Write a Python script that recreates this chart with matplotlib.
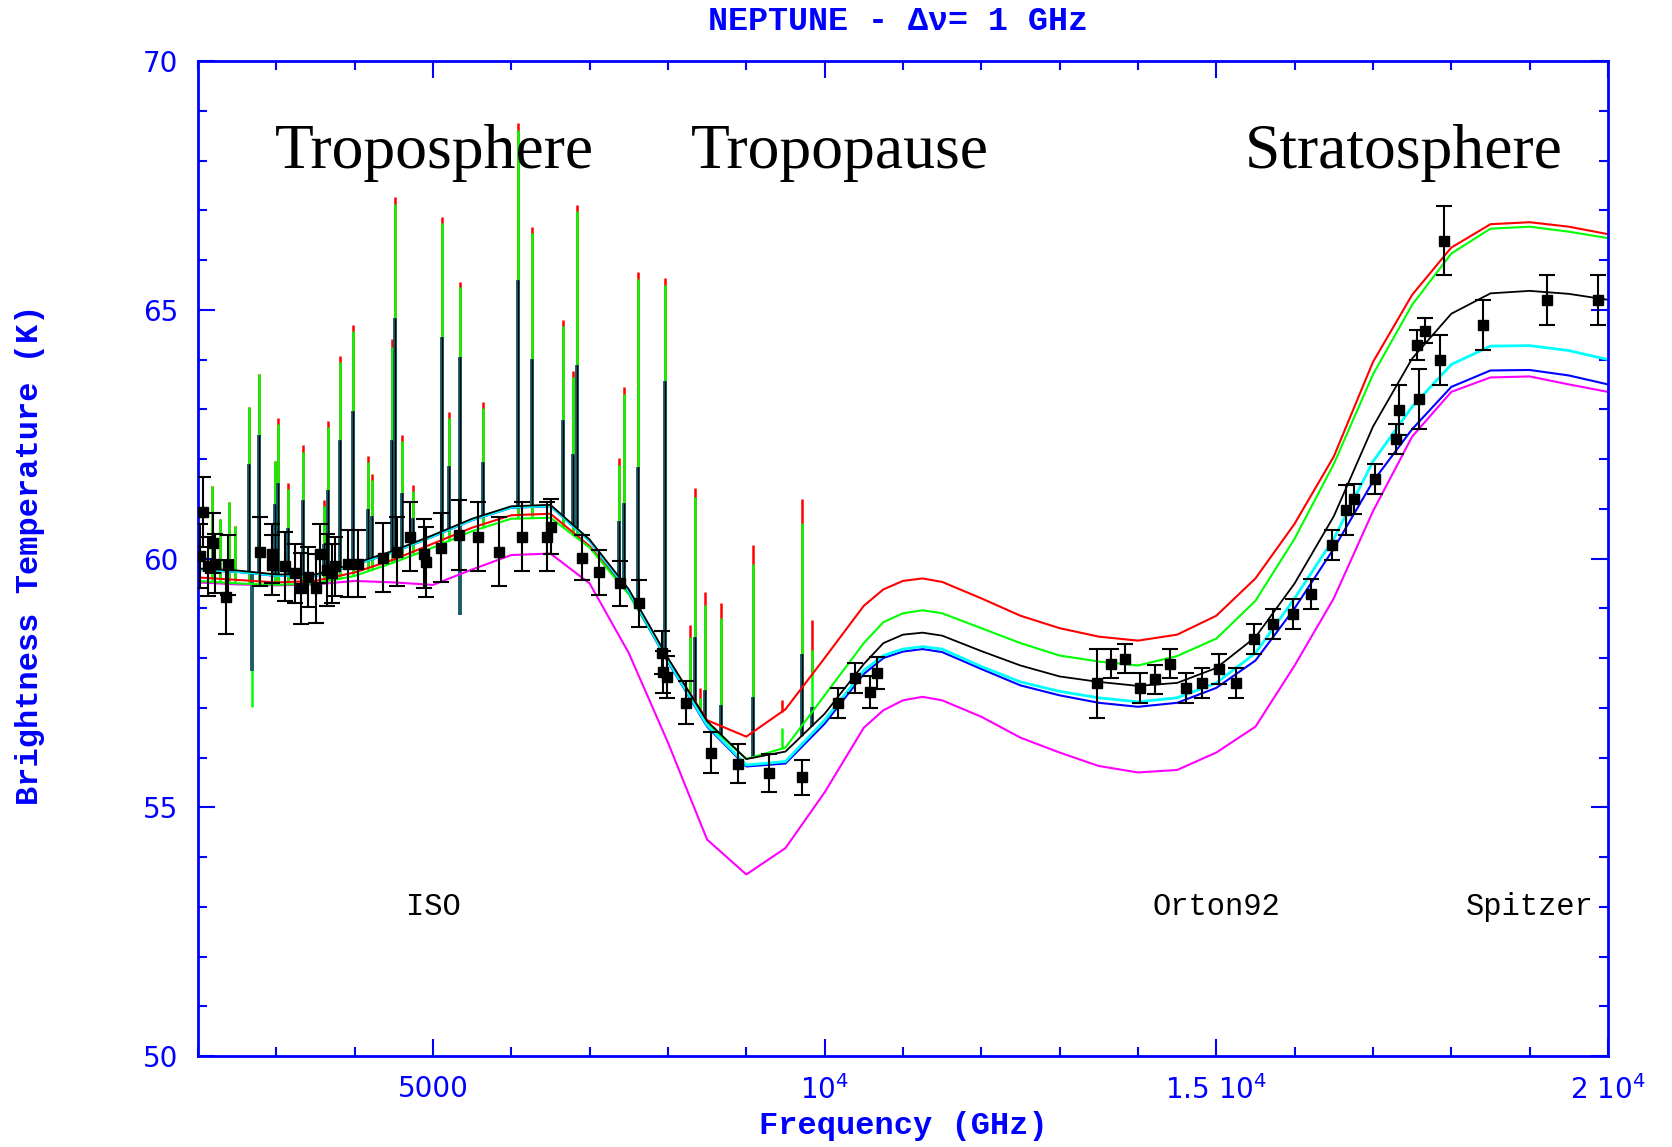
import numpy as np
import matplotlib.pyplot as plt
from matplotlib.ticker import FixedLocator, MultipleLocator

# model grid (GHz) and brightness temperatures (K) for the six models
freq = [2000, 2500, 3000, 3500, 4000, 4500, 5000, 5500, 6000, 6500, 7000, 7500,
        8000, 8500, 9000, 9500, 10000, 10500, 10750, 11000, 11250, 11500, 12000, 12500,
        13000, 13500, 14000, 14500, 15000, 15500, 16000, 16500, 17000, 17500, 18000,
        18500, 19000, 19500, 20000]

t_black = [59.80, 59.76, 59.68, 59.68, 59.90, 60.16, 60.47, 60.80, 61.05, 61.08, 60.38, 59.38,
           58.00, 56.73, 55.97, 56.12, 56.88, 57.88, 58.30, 58.47, 58.51, 58.45, 58.14, 57.85,
           57.63, 57.52, 57.44, 57.50, 57.80, 58.42, 59.50, 60.85, 62.65, 64.02, 64.92,
           65.33, 65.38, 65.32, 65.20]
t_red = [59.62, 59.57, 59.52, 59.55, 59.72, 59.98, 60.30, 60.62, 60.87, 60.90, 60.25, 59.30,
         57.98, 56.75, 56.42, 56.97, 58.00, 59.05, 59.38, 59.55, 59.60, 59.53, 59.20, 58.85,
         58.60, 58.43, 58.35, 58.47, 58.85, 59.60, 60.70, 62.05, 63.95, 65.30, 66.25,
         66.72, 66.76, 66.67, 66.52]
t_green = [59.55, 59.50, 59.47, 59.50, 59.65, 59.92, 60.22, 60.55, 60.80, 60.82, 60.22, 59.28,
           57.95, 56.68, 55.97, 56.20, 57.25, 58.30, 58.72, 58.90, 58.96, 58.90, 58.60, 58.30,
           58.05, 57.93, 57.85, 58.04, 58.39, 59.15, 60.40, 61.90, 63.70, 65.10, 66.13,
           66.63, 66.67, 66.57, 66.44]
t_cyan = [59.78, 59.74, 59.66, 59.66, 59.88, 60.14, 60.45, 60.78, 61.03, 61.06, 60.36, 59.35,
          57.95, 56.65, 55.85, 55.92, 56.75, 57.75, 58.05, 58.18, 58.23, 58.18, 57.83, 57.52,
          57.33, 57.20, 57.12, 57.20, 57.50, 58.10, 59.20, 60.40, 61.95, 63.05, 63.90,
          64.27, 64.28, 64.18, 64.00]
t_blue = [59.77, 59.73, 59.65, 59.65, 59.87, 60.13, 60.44, 60.77, 61.02, 61.05, 60.35, 59.33,
          57.92, 56.62, 55.82, 55.88, 56.68, 57.68, 58.00, 58.13, 58.18, 58.12, 57.78, 57.45,
          57.25, 57.10, 57.02, 57.10, 57.40, 57.95, 59.00, 60.20, 61.55, 62.60, 63.45,
          63.78, 63.79, 63.68, 63.50]
t_magenta = [59.52, 59.48, 59.46, 59.48, 59.55, 59.52, 59.47, 59.78, 60.07, 60.10, 59.50, 58.10,
             56.30, 54.35, 53.65, 54.18, 55.30, 56.60, 56.95, 57.15, 57.22, 57.15, 56.82, 56.40,
             56.10, 55.83, 55.70, 55.75, 56.10, 56.62, 57.85, 59.20, 60.95, 62.45, 63.35,
             63.64, 63.66, 63.50, 63.35]

# spectral lines: frequency and peak temperature for each model
spike_freq = [2175, 2281, 2400, 2472, 2651, 2779, 2983, 3025, 3145, 3337, 3609, 3663,
              3813, 3983, 4174, 4225, 4480, 4515, 4608, 4749, 5111, 5208, 5345, 5642,
              6089, 6260, 6656, 6791, 6834, 7374, 7438, 7621, 7962, 8281, 8345, 8409,
              8472, 8677, 9081, 9451, 9707, 9834]
spike_red = [61.45, 60.79, 61.14, 60.65, 63.04, 63.70, 61.97, 62.83, 61.52, 62.28, 61.17, 62.76,
             64.08, 64.70, 62.07, 61.69, 64.42, 67.26, 62.49, 61.48, 66.87, 62.95, 65.56, 63.14,
             68.76, 66.67, 64.80, 63.77, 67.11, 62.02, 63.45, 65.76, 65.64, 58.66, 61.41, 57.39,
             59.33, 59.11, 60.27, 57.16, 61.19, 58.76]
spike_green = [61.45, 60.79, 61.14, 60.65, 63.04, 63.70, 61.97, 62.70, 61.40, 62.15, 61.05, 62.64,
               63.96, 64.58, 61.95, 61.57, 64.25, 67.12, 62.37, 61.36, 66.74, 62.83, 65.45, 63.02,
               68.62, 66.55, 64.67, 63.65, 66.98, 61.88, 63.30, 65.62, 65.50, 58.43, 61.24, 57.20,
               59.07, 58.80, 59.90, 56.60, 60.71, 58.16]
spike_black = [np.nan, np.nan, np.nan, np.nan, 61.90, 62.49, 61.10, 61.52, 60.62, 61.17, 60.30, 61.38,
               62.38, 62.97, 61.00, 60.86, 62.38, 64.84, 61.31, 60.82, 64.45, 61.85, 64.05, 61.94,
               65.60, 64.01, 62.78, 62.10, 63.89, 60.75, 61.11, 61.83, 63.57, np.nan, 58.43, np.nan,
               57.36, 57.06, 57.22, np.nan, 58.09, 57.02]
# absorption features
dip_freq = [2686, 5345]
dip_green = [57.02, np.nan]
dip_black = [57.74, 58.86]

# observations (ISO, Orton92, Spitzer)
obs_freq = [2030, 2068, 2132, 2196, 2217, 2353, 2387, 2791, 2941, 2950, 3111, 3238, 3315,
            3408, 3502, 3557, 3643, 3706, 3749, 3919, 4047, 4366, 4536, 4706, 4889, 4907,
            5102, 5336, 5570, 5843, 6132, 6451, 6506, 6898, 7123, 7387, 7634, 7919, 7932,
            7983, 8230, 8549, 8897, 9293, 9707, 10174, 10387, 10579, 10673,
            13474, 13652, 13839, 14026, 14220, 14406, 14614, 14822, 15039, 15257, 15486,
            15729, 15977, 16215, 16478, 16661, 16752, 17021, 17300, 17335, 17594, 17564,
            17660, 17857, 17903, 18409, 19224, 19867]
obs_temp = [60.05, 60.94, 59.84, 60.31, 59.90, 59.23, 59.87, 60.14, 60.10, 59.87, 59.84, 59.70, 59.40,
            59.63, 59.40, 60.10, 59.77, 59.70, 59.84, 59.90, 59.90, 60.02, 60.14, 60.44, 60.10, 59.93,
            60.22, 60.47, 60.44, 60.14, 60.44, 60.44, 60.64, 60.02, 59.72, 59.50, 59.10, 58.11, 57.72,
            57.62, 57.10, 56.10, 55.88, 55.69, 55.60, 57.10, 57.60, 57.32, 57.70,
            57.49, 57.89, 57.99, 57.39, 57.57, 57.89, 57.39, 57.49, 57.78, 57.49, 58.39,
            58.68, 58.89, 59.29, 60.28, 60.98, 61.19, 61.60, 62.40, 62.98, 63.20, 64.29,
            64.58, 63.99, 66.39, 64.70, 65.19, 65.19]
obs_err = [0.65, 0.70, 0.60, 0.60, 0.60, 0.75, 0.60, 0.70, 0.60, 0.60, 0.70, 0.60, 0.72,
           0.60, 0.70, 0.60, 0.73, 0.60, 0.60, 0.67, 0.67, 0.70, 0.70, 0.70, 0.70, 0.70,
           0.70, 0.70, 0.70, 0.70, 0.70, 0.70, 0.55, 0.45, 0.45, 0.45, 0.47, 0.43, 0.43,
           0.43, 0.43, 0.42, 0.40, 0.38, 0.35, 0.30, 0.30, 0.32, 0.33,
           0.70, 0.30, 0.30, 0.30, 0.30, 0.30, 0.30, 0.30, 0.30, 0.30, 0.30,
           0.30, 0.30, 0.30, 0.30, 0.50, 0.30, 0.30, 0.30, 0.50, 0.60, 0.30,
           0.25, 0.50, 0.70, 0.50, 0.50, 0.50]

region_labels = ["Troposphere", "Tropopause", "Stratosphere"]
region_x = [2983, 8294, 15366]
source_labels = ["ISO", "Orton92", "Spitzer"]
source_x = [5000, 15000, 19000]

fig = plt.figure(figsize=(16.72, 11.47), dpi=100)
ax = fig.add_axes([0.1184, 0.0793, 0.8433, 0.8675])

mono = ["Liberation Mono", "DejaVu Sans Mono"]
teal = "#1b5c68"

sf = np.array(spike_freq)
sb = np.array(spike_black)
has_black = ~np.isnan(sb)

# line spikes, drawn under the continuum curves
ax.vlines(sf, np.interp(sf, freq, t_red), spike_red, colors="red", lw=1.8, zorder=1)
ax.vlines(sf, np.interp(sf, freq, t_green), spike_green, colors="#00ff00", lw=1.8, zorder=1.1)
ax.vlines(sf[has_black], np.interp(sf[has_black], freq, t_black), sb[has_black],
          colors=teal, lw=2.8, zorder=1.2)
ax.vlines(sf[has_black], np.interp(sf[has_black], freq, t_black), sb[has_black],
          colors="black", lw=0.9, zorder=1.3)

df = np.array(dip_freq)
dg = np.array(dip_green)
ok = ~np.isnan(dg)
ax.vlines(df[ok], np.interp(df[ok], freq, t_green), dg[ok], colors="#00ff00", lw=1.8, zorder=1.1)
ax.vlines(df, np.interp(df, freq, t_black), dip_black, colors=teal, lw=2.8, zorder=1.2)

# continuum curves
ax.plot(freq, t_magenta, color="#ff00ff", lw=1.5, zorder=2)
ax.plot(freq, t_red, color="red", lw=1.5, zorder=2.1)
ax.plot(freq, t_green, color="#00ff00", lw=1.5, zorder=2.2)
ax.plot(freq, t_blue, color="blue", lw=1.5, zorder=2.3)
ax.plot(freq, t_cyan, color="cyan", lw=2.0, zorder=2.4)
ax.plot(freq, t_black, color="black", lw=1.3, zorder=2.5)

ax.errorbar(obs_freq, obs_temp, yerr=obs_err, fmt="s", color="black", ms=7,
            elinewidth=1.5, capsize=6, capthick=1.5, zorder=5)

for label, x in zip(region_labels, region_x):
    ax.text(x, 67.85, label, family=["Liberation Serif", "DejaVu Serif"], fontsize=45.8,
            color="black", va="baseline", ha="left", zorder=6)
for label, x in zip(source_labels, source_x):
    ax.text(x, 53.0, label, family=mono, fontsize=22, color="black",
            va="center", ha="center", zorder=6)

ax.set_xlim(2000, 20000)
ax.set_ylim(50, 70)
ax.xaxis.set_major_locator(FixedLocator([5000, 10000, 15000, 20000]))
ax.set_xticklabels(["5000", r"$10^4$", r"$1.5\ 10^4$", r"$2\ 10^4$"])
ax.xaxis.set_minor_locator(MultipleLocator(1000))
ax.yaxis.set_major_locator(MultipleLocator(5))
ax.yaxis.set_minor_locator(MultipleLocator(1))
ax.tick_params(which="both", direction="in", top=True, right=True,
               colors="blue", labelcolor="blue", labelsize=20)
ax.tick_params(which="major", length=12, width=1.5)
ax.tick_params(which="minor", length=6.5, width=1.5)
ax.tick_params(axis="x", pad=14)
ax.tick_params(axis="y", pad=14)
for s in ax.spines.values():
    s.set_color("blue")
    s.set_linewidth(2)

fig.text(0.537, 1 - 21 / 1147, "NEPTUNE - Δν= 1 GHz", family=mono, fontsize=24,
         fontweight="bold", color="blue", ha="center", va="center")
fig.text(0.54, 1 - 1126 / 1147, "Frequency (GHz)", family=mono, fontsize=23,
         fontweight="bold", color="blue", ha="center", va="center")
fig.text(30 / 1672, 1 - 555 / 1147, "Brightness Temperature (K)", family=mono,
         fontsize=23, fontweight="bold", color="blue", ha="center", va="center", rotation=90)

fig.savefig("out.png", dpi=100)
